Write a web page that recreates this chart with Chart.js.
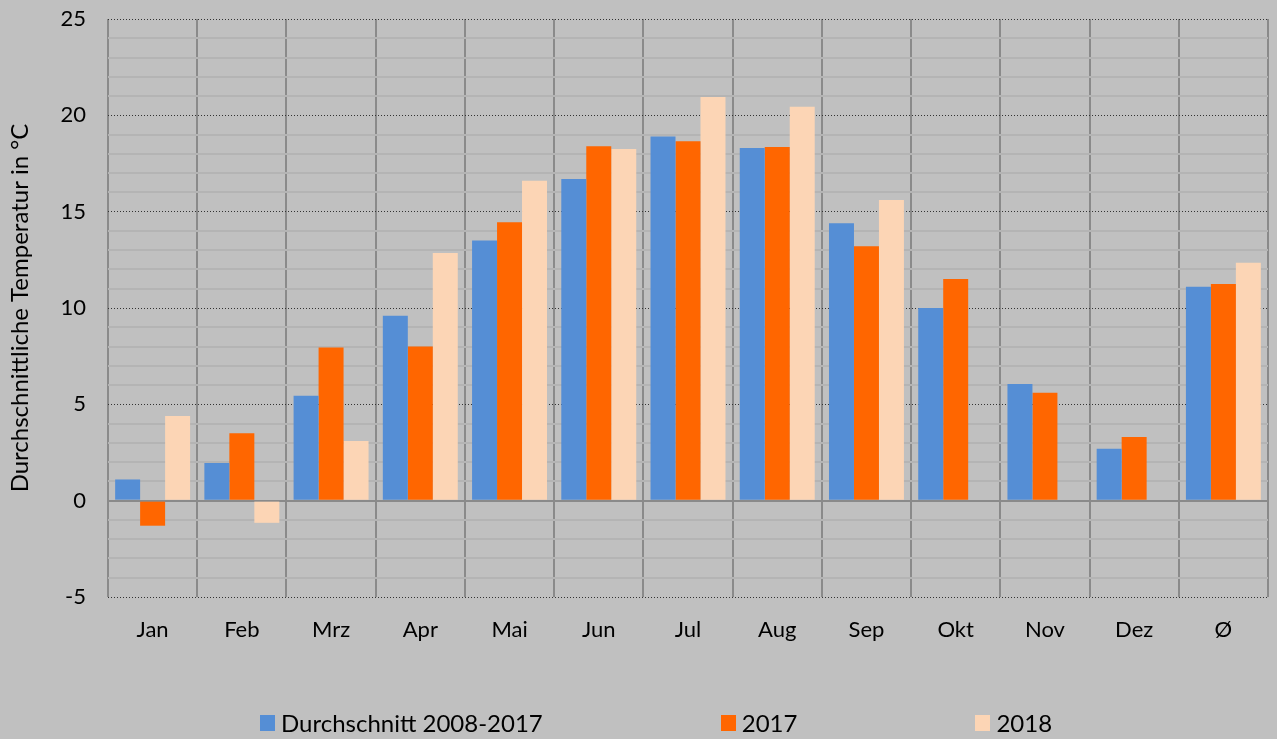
<!DOCTYPE html>
<html>
<head>
<meta charset="utf-8">
<script src="https://cdn.jsdelivr.net/npm/chart.js@4/dist/chart.umd.min.js"></script>
<style>
    html, body { margin: 0; padding: 0; background: #c0c0c0; }
    #wrap { position: relative; width: 1277px; height: 739px; background: #c0c0c0; overflow: hidden; }
    #myChart { position: absolute; left: 0; top: 0; }
    #legend {
        position: absolute; left: 260px; top: 708px;
        display: flex; gap: 178px;
        font-family: Lato, "Open Sans", sans-serif; font-size: 24px; color: #000;
    }
    #legend .item { display: flex; align-items: center; white-space: nowrap; }
    #legend .box { width: 15px; height: 16px; margin-right: 6px; }
</style>
</head>
<body>
<div id="wrap">
    <canvas id="myChart" width="1277" height="739"></canvas>
    <div id="legend"></div>
</div>
<script>
const months = ['Jan', 'Feb', 'Mrz', 'Apr', 'Mai', 'Jun', 'Jul', 'Aug', 'Sep', 'Okt', 'Nov', 'Dez', 'Ø'];
const seriesNames = ['Durchschnitt 2008-2017', '2017', '2018'];
const avg2008to2017 = [1.1, 1.95, 5.45, 9.6, 13.5, 16.7, 18.9, 18.3, 14.4, 10.0, 6.05, 2.7, 11.1];
const temps2017 = [-1.3, 3.5, 7.95, 8.0, 14.45, 18.4, 18.65, 18.35, 13.2, 11.5, 5.6, 3.3, 11.25];
const temps2018 = [4.4, -1.15, 3.1, 12.85, 16.6, 18.25, 20.95, 20.45, 15.6, null, null, null, 12.35];
const yTicksShown = [-5, 0, 5, 10, 15, 20, 25];

document.addEventListener('DOMContentLoaded', () => {
    const canvas = document.getElementById('myChart');
    const legendDiv = document.getElementById('legend');
    const colors = ['#558ed5', '#ff6600', '#fcd5b5'];
    const font = "Lato, 'Open Sans', sans-serif";

    const data = {
        labels: months,
        datasets: [avg2008to2017, temps2017, temps2018].map((values, i) => ({
            label: seriesNames[i],
            data: values,
            backgroundColor: colors[i],
            borderWidth: 0,
            categoryPercentage: 0.84,
            barPercentage: 1
        }))
    };

    const config = {
        type: 'bar',
        data,
        options: {
            responsive: false,
            animation: false,
            layout: { padding: { top: 19, right: 9, bottom: 0, left: 0 } },
            plugins: {
                legend: { display: false },
                tooltip: { enabled: false }
            },
            scales: {
                x: {
                    grid: {
                        color: '#8a8a8a',
                        lineWidth: 2,
                        drawTicks: false,
                        offset: true
                    },
                    border: { display: false },
                    ticks: {
                        color: '#000',
                        font: { family: font, size: 22 },
                        padding: 20
                    },
                    afterFit: scale => { scale.height = 142; }
                },
                y: {
                    min: -5,
                    max: 25,
                    grid: {
                        drawTicks: false,
                        color: ctx => {
                            const v = ctx.tick.value;
                            if (v === 0) return '#8a8a8a';
                            if (yTicksShown.includes(v)) return '#333333';
                            return '#b4b4b4';
                        },
                        lineWidth: ctx => {
                            const v = ctx.tick.value;
                            if (v === 0) return 2;
                            if (yTicksShown.includes(v)) return 1;
                            return 2;
                        }
                    },
                    border: {
                        display: false,
                        dash: ctx => (ctx.tick && ctx.tick.value !== 0 && yTicksShown.includes(ctx.tick.value)) ? [1, 2] : []
                    },
                    ticks: {
                        stepSize: 1,
                        autoSkip: false,
                        color: '#000',
                        font: { family: font, size: 22 },
                        padding: 22,
                        callback: v => yTicksShown.includes(v) ? v : ''
                    },
                    title: {
                        display: true,
                        text: 'Durchschnittliche Temperatur in °C',
                        color: '#000',
                        font: { family: font, size: 24 },
                        padding: { top: 6, bottom: 0 }
                    },
                    afterFit: scale => {
                        scale.width = 108;
                        // tick padding soll nicht oben/unten Platz fressen
                        scale.paddingTop = 12;
                        scale.paddingBottom = 12;
                    }
                }
            }
        }
    };

    new Chart(canvas.getContext('2d'), config);

    // Legende als HTML, aus den Datensätzen gebaut
    data.datasets.forEach(ds => {
        const item = document.createElement('div');
        item.className = 'item';
        const box = document.createElement('span');
        box.className = 'box';
        box.style.background = ds.backgroundColor;
        const text = document.createElement('span');
        text.textContent = ds.label;
        item.appendChild(box);
        item.appendChild(text);
        legendDiv.appendChild(item);
    });
});
</script>
</body>
</html>
